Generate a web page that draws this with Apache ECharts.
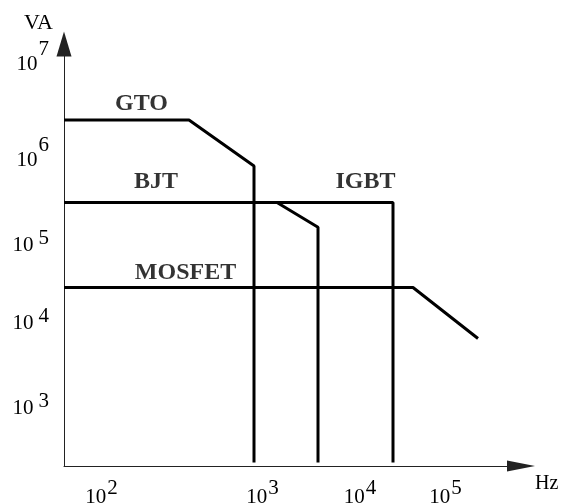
<!DOCTYPE html>
<html><head><meta charset="utf-8">
<script src="https://cdn.jsdelivr.net/npm/echarts@6/dist/echarts.min.js"></script>
<style>html,body{margin:0;padding:0;background:#fff}#c{width:562px;height:504px}</style>
</head><body><div id="c"></div>
<script>
// x: log10(frequency / Hz) on the figure's schematic scale; y: log10(power / VA)
const gtoX = [1.10, 2.35, 3.00, 3.00];
const gtoY = [6.47, 6.47, 5.93, 2.44];
const bjtX = [1.10, 3.23, 3.64, 3.64];
const bjtY = [5.50, 5.50, 5.21, 2.44];
const igbtX = [1.10, 4.39, 4.39];
const igbtY = [5.50, 5.50, 2.44];
const mosfetX = [1.10, 4.59, 5.24];
const mosfetY = [4.50, 4.50, 3.90];
const deviceNames = ['GTO', 'BJT', 'IGBT', 'MOSFET'];
const nameX = [1.875, 2.02, 4.115, 2.315];
const nameY = [6.66, 5.745, 5.745, 4.675];
const xTickPos = [1.475, 3.085, 4.06, 4.915];
const xTickExp = ['2', '3', '4', '5'];
const yTickPos = [3.08, 4.08, 5.0, 6.0, 7.12];
const yTickExp = ['3', '4', '5', '6', '7'];

const FONT = '"Liberation Serif", "Times New Roman", serif';
function pairs(xs, ys) { return xs.map((x, i) => [x, ys[i]]); }
function nearest(arr, v) {
  let best = 0;
  arr.forEach((p, i) => { if (Math.abs(p - v) < Math.abs(arr[best] - v)) best = i; });
  return best;
}
const lineStyle = { color: '#000', width: 3 };
function dev(name, xs, ys) {
  return { name, type: 'line', data: pairs(xs, ys), symbol: 'none', lineStyle, silent: true, z: 3 };
}

const chart = echarts.init(document.getElementById('c'), null, { renderer: 'canvas' });
chart.setOption({
  animation: false,
  backgroundColor: '#fff',
  grid: { left: 64, right: 41, top: 44, bottom: 38, containLabel: false, outerBoundsMode: 'none' },
  xAxis: {
    type: 'value', min: 1.10, max: 5.67,
    name: 'Hz', nameLocation: 'end', nameGap: 14,
    nameTextStyle: { fontFamily: FONT, fontSize: 20, color: '#000', verticalAlign: 'top', padding: [8, 0, 0, 0] },
    axisLine: { show: true, symbol: ['none', 'triangle'], symbolSize: [11, 28], lineStyle: { color: '#222', width: 1 } },
    axisTick: { show: false },
    splitLine: { show: false },
    axisLabel: {
      customValues: xTickPos, margin: 12, color: '#000', fontFamily: FONT,
      formatter: v => '{b|10}{s|' + xTickExp[nearest(xTickPos, v)] + '}',
      rich: {
        b: { fontFamily: FONT, fontSize: 21, color: '#000' },
        s: { fontFamily: FONT, fontSize: 21, color: '#000', padding: [0, 0, 18, 1] }
      }
    }
  },
  yAxis: {
    type: 'value', min: 2.40, max: 7.365,
    name: 'VA', nameLocation: 'end', nameGap: 10,
    nameTextStyle: { fontFamily: FONT, fontSize: 22, color: '#000', align: 'right', padding: [0, 11, 0, 0] },
    axisLine: { show: true, symbol: ['none', 'triangle'], symbolSize: [15, 25], lineStyle: { color: '#222', width: 1 } },
    axisTick: { show: false },
    splitLine: { show: false },
    axisLabel: {
      customValues: yTickPos, margin: 15, color: '#000', fontFamily: FONT,
      formatter: v => {
        const e = yTickExp[nearest(yTickPos, v)];
        return '{b|10}{' + (e === '6' || e === '7' ? 's1' : 's2') + '|' + e + '}';
      },
      rich: {
        b: { fontFamily: FONT, fontSize: 21, color: '#000' },
        s1: { fontFamily: FONT, fontSize: 21, color: '#000', padding: [0, 0, 30, 1] },
        s2: { fontFamily: FONT, fontSize: 21, color: '#000', padding: [0, 0, 14, 5] }
      }
    }
  },
  series: [
    dev('GTO', gtoX, gtoY),
    dev('BJT', bjtX, bjtY),
    dev('IGBT', igbtX, igbtY),
    dev('MOSFET', mosfetX, mosfetY),
    {
      type: 'scatter', silent: true, symbolSize: 1,
      itemStyle: { color: 'rgba(0,0,0,0)' },
      data: deviceNames.map((n, i) => ({ value: [nameX[i], nameY[i]], name: n })),
      label: { show: true, position: 'inside', formatter: p => p.name,
        fontFamily: FONT, fontWeight: 'bold', fontSize: 24, color: '#000' }
    }
  ]
});
</script>
</body></html>
